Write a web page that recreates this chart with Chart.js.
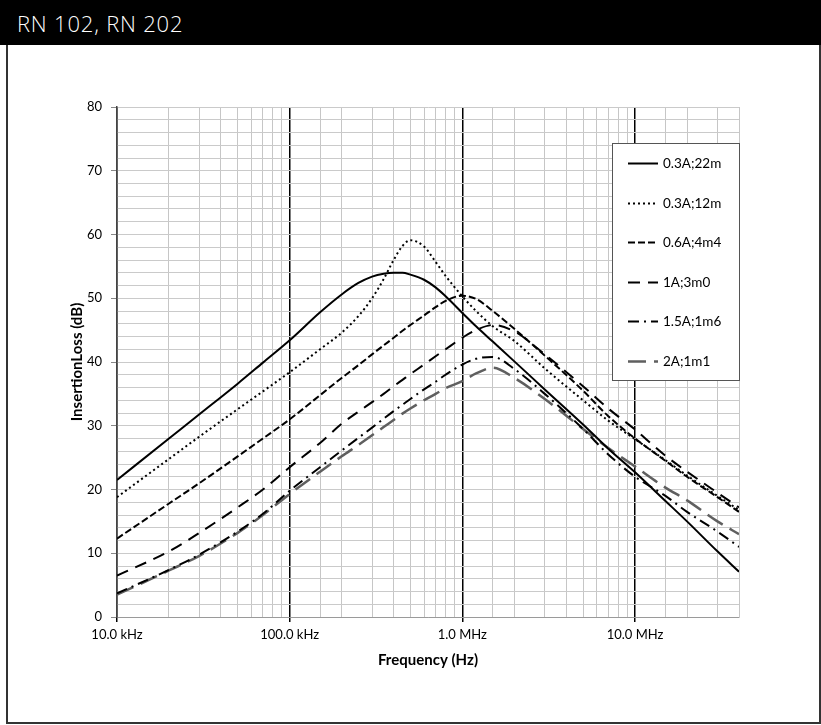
<!DOCTYPE html>
<html>
<head>
<meta charset="utf-8">
<title>RN 102, RN 202</title>
<script src="https://cdn.jsdelivr.net/npm/chart.js@4.4.1/dist/chart.umd.min.js"></script>
<style>
  html, body { margin: 0; padding: 0; background: #fff; }
  #wrap { position: relative; width: 821px; height: 725px; overflow: hidden; }
  #chart { position: absolute; left: 0; top: 0; }
  #frame { position: absolute; left: 6px; top: 40px; width: 815px; height: 684px;
           border: 2px solid #333; border-top: none; box-sizing: border-box; }
  #head { position: absolute; left: 0; top: 0; width: 821px; height: 45px; background: #000;
          color: #fff; font-family: 'Open Sans', sans-serif; font-weight: 300; font-size: 22px;
          letter-spacing: 0.8px; line-height: 47px; padding-left: 17px; box-sizing: border-box; }
</style>
</head>
<body>
<div id="wrap">
  <canvas id="chart" width="821" height="725"></canvas>
  <div id="frame"></div>
  <div id="head">RN 102, RN 202</div>
</div>
<script>
// frequency points (Hz)
var freqHz = [1e4, 2e4, 3e4, 5e4, 7e4, 1e5, 1.5e5, 2e5, 2.5e5, 3e5, 3.5e5, 4e5, 4.5e5, 5e5, 6e5, 7e5, 8e5,
              1e6, 1.2e6, 1.5e6, 2e6, 3e6, 5e6, 7e6, 1e7, 1.5e7, 2e7, 3e7, 4e7];

// insertion loss (dB), one array per filter
var loss_03A_22m = [21.5, 28.0, 31.8, 36.6, 39.9, 43.4, 47.8, 50.6, 52.4, 53.4, 53.85, 54.0, 54.0, 53.7, 52.9, 51.7, 50.3,
                    47.7, 45.6, 43.2, 40.1, 35.7, 30.2, 26.4, 22.7, 18.2, 15.0, 10.3, 7.1];
var loss_03A_12m = [18.8, 24.8, 28.3, 32.6, 35.4, 38.4, 42.0, 44.6, 47.2, 50.0, 53.0, 56.0, 58.2, 59.1, 58.1, 55.7, 53.5,
                    50.3, 48.0, 45.6, 43.3, 39.0, 34.0, 30.8, 27.9, 24.6, 22.2, 19.0, 16.8];
var loss_06A_4m4 = [12.3, 17.8, 21.0, 25.2, 28.0, 31.0, 34.8, 37.5, 39.5, 41.2, 42.6, 43.8, 44.9, 45.8, 47.3, 48.6, 49.6,
                    50.4, 49.9, 48.0, 45.2, 41.0, 35.5, 31.5, 28.0, 24.5, 22.0, 18.8, 16.5];
var loss_1A_3m0 = [6.5, 10.3, 13.2, 17.2, 20.0, 23.5, 27.3, 30.3, 32.2, 33.7, 35.0, 36.2, 37.2, 38.1, 39.6, 40.9, 42.0,
                   43.8, 45.0, 45.8, 44.8, 41.2, 36.2, 32.7, 29.4, 25.3, 22.8, 19.5, 17.2];
var loss_15A_1m6 = [3.7, 7.4, 9.8, 13.4, 16.2, 19.8, 23.5, 26.1, 28.1, 29.7, 31.1, 32.3, 33.3, 34.2, 35.7, 36.9, 38.0,
                    39.6, 40.5, 40.8, 38.9, 35.0, 29.5, 25.5, 22.0, 19.0, 16.5, 13.4, 11.0];
var loss_2A_1m1 = [3.5, 7.3, 9.6, 13.2, 16.0, 19.3, 22.8, 25.2, 27.0, 28.5, 29.8, 30.9, 31.9, 32.7, 34.0, 35.0, 35.9,
                   37.0, 38.2, 39.1, 37.5, 34.2, 29.5, 26.5, 23.6, 20.3, 18.3, 15.0, 13.0];

var seriesNames = ['0.3A;22m', '0.3A;12m', '0.6A;4m4', '1A;3m0', '1.5A;1m6', '2A;1m1'];

// x axis labels, only on decades
var decadeValues = [1e4, 1e5, 1e6, 1e7];
var decadeLabels = ['10.0 kHz', '100.0 kHz', '1.0 MHz', '10.0 MHz'];

function isDecade(v) {
    var l = Math.log10(v);
    return Math.abs(l - Math.round(l)) < 1e-6;
}

function makeSet(label, values, color, width, dash) {
    return {
        label: label,
        data: freqHz.map(function (f, i) { return { x: f, y: values[i] }; }),
        borderColor: color,
        backgroundColor: color,
        borderWidth: width,
        borderDash: dash,
        pointRadius: 0,
        fill: false,
        cubicInterpolationMode: 'monotone'
    };
}

var chartData = {
    datasets: [
        makeSet(seriesNames[0], loss_03A_22m, '#000', 2, []),
        makeSet(seriesNames[1], loss_03A_12m, '#000', 2, [2, 3]),
        makeSet(seriesNames[2], loss_06A_4m4, '#000', 2, [7, 3]),
        makeSet(seriesNames[3], loss_1A_3m0, '#000', 2, [12, 8]),
        makeSet(seriesNames[4], loss_15A_1m6, '#000', 2, [11, 5, 2, 5]),
        makeSet(seriesNames[5], loss_2A_1m1, '#5f5f5f', 2.5, [18, 8])
    ]
};

// legend drawn in a white box inside the plot, like the original
var legendBox = {
    id: 'legendBox',
    afterDraw: function (chart) {
        var ctx = chart.ctx;
        var x0 = 612, y0 = 143, w = 127, h = 237;
        ctx.save();
        ctx.fillStyle = '#fff';
        ctx.fillRect(x0, y0, w, h);
        ctx.strokeStyle = '#555';
        ctx.lineWidth = 1;
        ctx.strokeRect(x0 + 0.5, y0 + 0.5, w, h);
        chart.data.datasets.forEach(function (ds, i) {
            var y = Math.round(y0 + 20 + i * 39.6) + 0.5;
            ctx.setLineDash(ds.borderDash);
            ctx.strokeStyle = ds.borderColor;
            ctx.lineWidth = ds.borderWidth;
            ctx.beginPath();
            ctx.moveTo(628, y);
            ctx.lineTo(658, y);
            ctx.stroke();
            ctx.setLineDash([]);
            ctx.fillStyle = '#000';
            ctx.font = '13.5px Lato, sans-serif';
            ctx.textBaseline = 'middle';
            ctx.textAlign = 'left';
            ctx.fillText(ds.label, 663, y);
        });
        ctx.restore();
    }
};

var ctx = document.getElementById('chart');

var lossChart = new Chart(ctx, {
    type: 'line',
    data: chartData,
    plugins: [legendBox],
    options: {
        responsive: false,
        animation: false,
        devicePixelRatio: 1,
        layout: { padding: { left: 0, right: 82, top: 107, bottom: 56 } },
        plugins: {
            legend: { display: false },
            tooltip: { enabled: false }
        },
        scales: {
            x: {
                type: 'logarithmic',
                min: 1e4,
                max: 4e7,
                afterFit: function (s) { s.height = 52; },
                ticks: {
                    autoSkip: false,
                    maxRotation: 0,
                    padding: 5,
                    color: '#000',
                    font: { family: 'Lato', size: 13 },
                    callback: function (v) {
                        var k = decadeValues.indexOf(v);
                        return k >= 0 ? decadeLabels[k] : '';
                    }
                },
                grid: {
                    color: function (c) { return isDecade(c.tick.value) ? '#000' : '#c6c6c6'; },
                    lineWidth: function (c) { return isDecade(c.tick.value) ? 1.5 : 1; },
                    tickLength: 5,
                    tickColor: function (c) { return isDecade(c.tick.value) ? '#000' : 'rgba(0,0,0,0)'; }
                },
                border: { color: '#9a9a9a' },
                title: {
                    display: true,
                    text: 'Frequency (Hz)',
                    color: '#000',
                    font: { family: 'Lato', size: 15, weight: 'bold' },
                    padding: 0
                }
            },
            y: {
                min: 0,
                max: 80,
                afterFit: function (s) { s.width = 117; },
                ticks: {
                    stepSize: 2,
                    autoSkip: false,
                    padding: 9,
                    color: '#000',
                    font: { family: 'Lato', size: 13 },
                    callback: function (v) { return v % 10 === 0 ? v : ''; }
                },
                grid: {
                    color: '#cacaca',
                    tickLength: 6,
                    tickColor: function (c) { return c.tick.value % 10 === 0 ? '#888' : 'rgba(0,0,0,0)'; }
                },
                border: { color: '#444', width: 1.5 },
                title: {
                    display: true,
                    text: 'InsertionLoss (dB)',
                    color: '#000',
                    font: { family: 'Lato', size: 15, weight: 'bold' },
                    padding: { top: 68, bottom: 0 }
                }
            }
        }
    }
});
</script>
</body>
</html>
